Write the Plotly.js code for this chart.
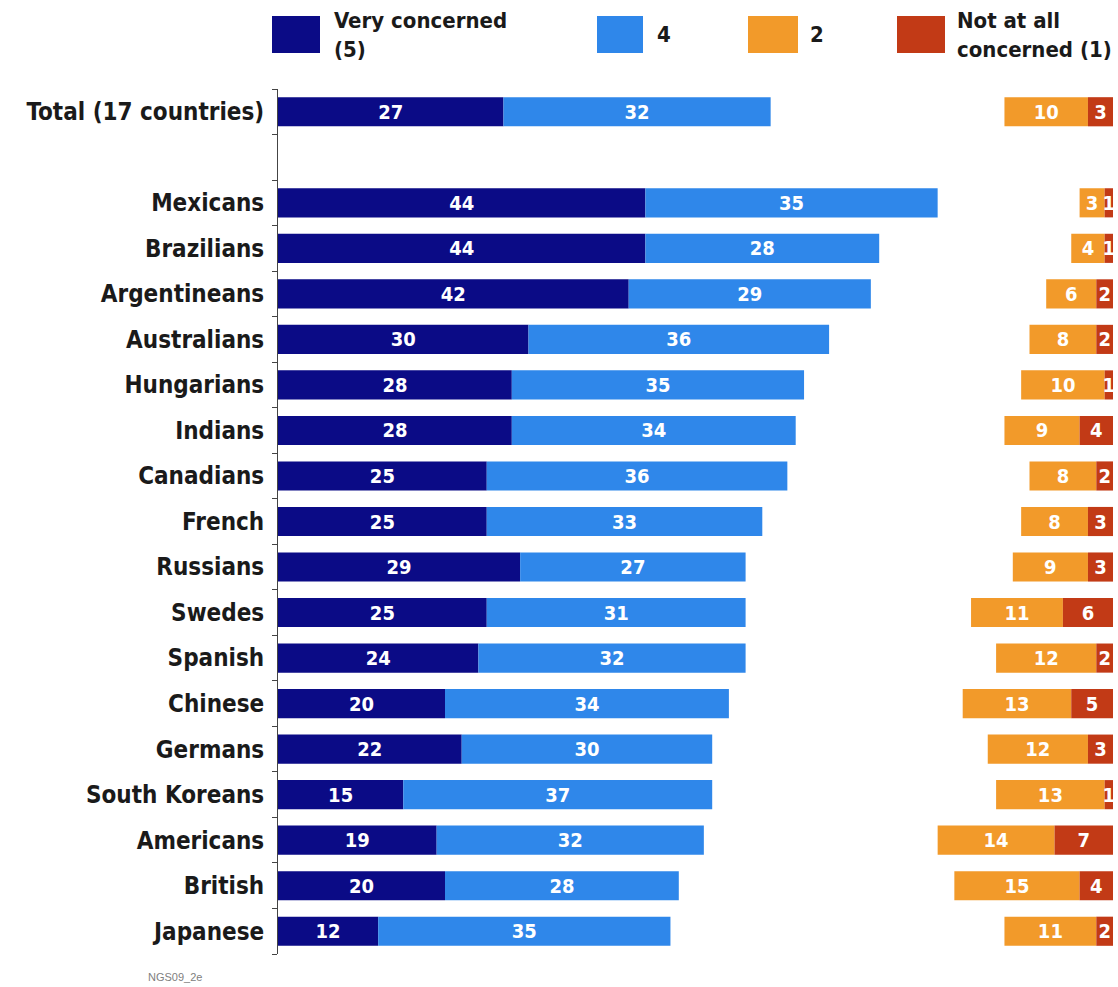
<!DOCTYPE html>
<html>
<head>
<meta charset="utf-8">
<script src="https://cdn.plot.ly/plotly-3.0.1.min.js"></script>
<style>html,body{margin:0;padding:0;background:#fff;}#chart{width:1118px;height:987px;}</style>
</head>
<body>
<div id="chart"></div>
<script>
const categories = ["Total (17 countries)", "Mexicans", "Brazilians", "Argentineans", "Australians", "Hungarians", "Indians", "Canadians", "French", "Russians", "Swedes", "Spanish", "Chinese", "Germans", "South Koreans", "Americans", "British", "Japanese"];
const veryConcerned = [27, 44, 44, 42, 30, 28, 28, 25, 25, 29, 25, 24, 20, 22, 15, 19, 20, 12];
const four = [32, 35, 28, 29, 36, 35, 34, 36, 33, 27, 31, 32, 34, 30, 37, 32, 28, 35];
const two = [10, 3, 4, 6, 8, 10, 9, 8, 8, 9, 11, 12, 13, 12, 13, 14, 15, 11];
const notAtAll = [3, 1, 1, 2, 2, 1, 4, 2, 3, 3, 6, 2, 5, 3, 1, 7, 4, 2];
const legendLabels = ["Very concerned<br>(5)", "4", "2", "Not at all<br>concerned (1)"];

const colors = ["#0b0b86", "#2f87ea", "#f29a2a", "#c23a16"];
const FONT = '"DejaVu Sans Condensed", "Liberation Sans Narrow", "DejaVu Sans", sans-serif';
const RIGHT_END = 100;

// y positions: Total first, then a blank slot, then the countries
const pos = categories.map((c, i) => i === 0 ? 0 : i + 1);

const W = 1118, H = 987;
const L = 278, R = 5, T = 89, B = 33;
const pw = W - L - R, ph = H - T - B;
const px2x = px => (px - L) / pw;
const py2y = py => (H - B - py) / ph;

function barTrace(vals, base, color, name) {
  return {
    type: 'bar', orientation: 'h', name: name,
    x: vals, y: pos, base: base,
    width: 0.64,
    marker: {color: color, line: {width: 0}},
    text: vals.map(String),
    textposition: 'inside', insidetextanchor: 'middle',
    textangle: 0,
    constraintext: 'none',
    textfont: {family: FONT, size: 20, color: '#ffffff', weight: 'bold'},
    hoverinfo: 'skip', showlegend: false, cliponaxis: false
  };
}

const traces = [
  barTrace(veryConcerned, veryConcerned.map(() => 0), colors[0], "Very concerned (5)"),
  barTrace(four, veryConcerned, colors[1], "4"),
  barTrace(two, two.map((v, i) => RIGHT_END - v - notAtAll[i]), colors[2], "2"),
  barTrace(notAtAll, notAtAll.map(v => RIGHT_END - v), colors[3], "Not at all concerned (1)")
];

// legend built with shapes and annotations
const legBoxes = [[272, 320], [597, 643], [748, 798], [897, 945]];
const legTextX = [332, 655, 808, 955];
const shapes = legBoxes.map((b, i) => ({
  type: 'rect', xref: 'paper', yref: 'paper',
  x0: px2x(b[0]), x1: px2x(b[1]), y0: py2y(53), y1: py2y(16),
  fillcolor: colors[i], line: {width: 0}
}));
const annotations = legendLabels.map((t, i) => ({
  xref: 'paper', yref: 'paper', x: px2x(legTextX[i]), y: py2y(35),
  xanchor: 'left', yanchor: 'middle', align: 'left', showarrow: false,
  text: t, font: {family: FONT, size: 22, color: '#1a1a1a', weight: 'bold'}
}));
annotations.push({
  xref: 'paper', yref: 'paper', x: px2x(175), y: py2y(977),
  xanchor: 'center', yanchor: 'middle', showarrow: false,
  text: 'NGS09_2e', font: {family: '"Liberation Sans", Arial, sans-serif', size: 11, color: '#808080'}
});

const boundaries = [];
for (let v = -0.5; v <= 18.5; v += 1) boundaries.push(v);

const layout = {
  width: W, height: H,
  margin: {l: L, r: R, t: T, b: B},
  paper_bgcolor: '#ffffff', plot_bgcolor: '#ffffff',
  barmode: 'overlay',
  showlegend: false,
  xaxis: {range: [0, RIGHT_END], visible: false, fixedrange: true},
  yaxis: {
    range: [18.5, -0.5], tickmode: 'array', tickvals: pos, ticktext: categories,
    ticks: '', showgrid: false, zeroline: false,
    showline: true, linecolor: '#444444', linewidth: 1,
    ticklabelstandoff: 8,
    tickfont: {family: FONT, size: 24, color: '#1a1a1a', weight: 'bold'},
    minor: {tickmode: 'array', tickvals: boundaries, ticks: 'outside', ticklen: 5, tickcolor: '#444444', tickwidth: 1, showgrid: false}
  },
  shapes: shapes,
  annotations: annotations
};

Plotly.newPlot('chart', traces, layout, {displayModeBar: false, staticPlot: true});
</script>
</body>
</html>
